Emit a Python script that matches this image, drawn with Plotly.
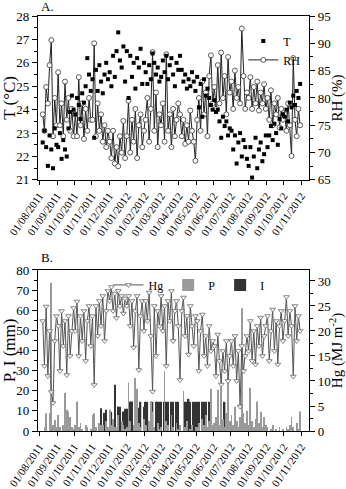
import pandas as pd
import plotly.graph_objects as go

# ---------------- data (3-day sampling) ----------------
dates = pd.date_range("2011-08-07", periods=151, freq="3D")

T = [22.6, 23.1, 22.4, 21.6, 22.9, 22.3, 21.5, 23.2, 22.5,
     22.4, 23.0, 21.9, 22.7, 22.3, 22.0, 23.2, 23.9, 24.6, 24.0,
     23.8, 24.5, 24.2, 23.6, 24.7, 24.3, 25.0, 26.2, 25.5, 24.8,
     25.3, 22.8, 25.7, 24.8, 25.9, 25.2, 24.7, 25.5, 26.0, 25.3,
     25.6, 25.0, 26.3, 25.4, 26.5, 27.3, 26.1, 25.8, 26.7, 25.2,
     26.5, 24.5, 26.3, 25.4, 26.0, 24.9, 26.2, 25.8, 26.6, 25.1, 26.0,
     25.6, 25.1, 25.9, 25.3, 26.4, 26.0, 25.5, 25.8, 25.2,
     25.4, 26.1, 25.6, 26.3, 25.3, 25.9, 26.2, 25.5, 25.0, 26.0, 25.7,
     26.3, 25.7, 25.2, 25.5, 24.9, 25.3, 25.0, 25.6, 25.2, 24.8,
     25.4, 24.1, 25.1, 23.7, 25.3, 24.6, 24.9, 24.5, 24.2, 24.0,
     24.4, 23.9, 24.0, 23.5, 22.8, 23.7, 23.3, 23.5, 22.9, 23.2,
     23.1, 22.3, 22.9, 21.7, 22.6, 23.0, 22.0, 22.7, 22.4, 21.9,
     21.6, 22.4, 21.1, 22.0, 22.8, 21.5, 22.3, 22.6, 21.8, 22.1, 22.9,
     22.4, 22.9, 23.3, 22.7, 23.4, 23.0, 22.5, 23.6, 23.2, 23.8,
     23.7, 24.0, 23.5, 24.3, 24.1, 24.6, 24.2, 24.8, 24.5, 25.1]

RH = [77, 74, 82, 79, 86, 90.6, 73, 80, 75,
      84.7, 75, 79, 73, 83, 76, 80, 74, 78, 73,
      77, 73, 83.8, 75, 79, 72.5, 78, 74, 80, 76,
      76, 90, 73, 79, 74, 77, 72, 75, 71, 74,
      72, 69, 74, 68, 71, 67.5, 73, 70, 75.8, 69,
      73, 79.5, 70, 76, 72, 78, 69, 75, 77, 71, 74,
      76, 80, 72, 78, 88.4, 74, 81, 71, 77,
      75, 79, 72, 88, 74, 77, 71, 78, 73, 76, 79,
      77, 73, 76, 71.6, 75, 72, 77.7, 74, 72, 68.5,
      76, 80, 74, 83, 77, 81, 73, 84, 87.8, 79,
      82, 78, 86, 79, 88.3, 80, 84, 77, 87.5, 81,
      83, 78, 85, 80, 82, 79, 92.7, 84, 78, 81,
      80, 83.8, 78, 82, 79, 83, 77.7, 81, 79, 82.5, 78,
      80, 76, 81.4, 75, 79, 77, 80, 74.6, 78, 76,
      77, 74, 79, 75, 69.4, 87.3, 76, 73, 78, 75]

Hg = [22, 13, 24.9, 11, 20, 7.8, 5.6, 18, 23,
      21, 12, 24, 17, 22, 11.2, 23, 15, 20, 24.6,
      20, 25.9, 15, 23, 18, 24, 14, 22, 25, 17,
      23, 9.2, 25, 19, 26, 21, 27, 18, 24, 28,
      26, 28.8, 24, 27.5, 22.6, 28, 25, 27, 23.5, 26.5,
      25, 27, 21, 26, 16.7, 24, 27, 12.2, 23, 26, 20,
      26, 22, 27.7, 19, 7.9, 25, 15, 24, 21,
      27, 20, 25, 13, 26, 22, 28, 18, 24, 26, 21,
      10.2, 24, 26.7, 19, 23, 15.3, 25, 21, 17, 23,
      22, 12, 20, 23.3, 15, 19, 13, 21, 16, 18,
      17, 11, 19.3, 14, 9.3, 16, 12, 18, 10, 15,
      18, 13, 19, 10, 16, 4.9, 17, 12, 15, 19,
      16, 22, 14, 20, 13.3, 21, 17, 22.7, 15, 19, 21,
      23, 14, 20, 24.3, 16, 22, 13.3, 21, 24, 18,
      22, 26.8, 19, 24, 21, 10.9, 25, 18, 23, 20]

P = [0, 2, 8.8, 0, 9, 73.6, 3, 5.5, 2,
     8, 2, 0, 3, 19, 10.5, 9.7, 7, 2, 1,
     3, 14.7, 2, 4, 1, 0, 3, 2, 0, 1,
     8, 8.8, 2, 0, 4, 3, 3, 0, 5, 2,
     10.5, 3, 6, 2, 2, 8, 0, 5, 3, 1,
     2, 24, 5, 0, 3, 26.3, 21, 4, 2, 0, 6,
     3, 0, 5, 14.7, 9.7, 2, 0, 4, 1,
     2, 0, 29.7, 5, 3, 0, 8, 2, 0, 4, 1,
     3, 0, 20, 2, 5, 0, 1, 3, 0, 2,
     2, 4, 0, 6, 3, 8, 2, 5, 21, 3,
     4, 7, 20.5, 3, 22, 6, 2, 9, 26.5, 5,
     8, 3, 12, 5, 2, 7, 61, 9, 4, 10,
     3, 21.5, 5, 2, 6, 14.6, 4, 9.6, 2, 7, 3,
     2, 0, 1, 3, 0, 1, 0, 2, 0, 1,
     0, 2, 1, 3, 7, 2, 0, 4, 1, 9.7]

I = [0, 0, 0, 0, 0, 0, 0, 0, 0,
     0, 0, 0, 0, 0, 0, 0, 0, 0, 0,
     0, 0, 0, 0, 0, 0, 0, 0, 0, 0,
     0, 0, 0, 0, 0, 11.3, 0, 9, 10.5, 0,
     0, 9.5, 0, 23, 0, 12.2, 12, 0, 9.7, 11,
     11, 0, 14.7, 14.7, 0, 12, 0, 11.5, 14.5, 0, 12,
     14.5, 14.5, 0, 14.5, 14.5, 0, 14.5, 14.5, 14.5,
     14.5, 0, 14.5, 14.5, 14.5, 0, 14.5, 14.5, 0, 14.5, 14.5,
     0, 0, 0, 14.5, 14.5, 16, 14.5, 0, 14.5, 14.5,
     14.5, 14.5, 0, 14.5, 14.5, 14.5, 0, 14.5, 0, 0,
     0, 0, 12, 0, 0, 0, 14.5, 0, 0, 0,
     0, 0, 0, 0, 0, 0, 0, 0, 0, 0,
     0, 0, 0, 0, 0, 0, 0, 0, 0, 0, 0,
     0, 0, 0, 0, 0, 0, 0, 0, 0, 0,
     0, 0, 0, 0, 0, 0, 0, 0, 0, 0]

# ---------------- figure ----------------
FONT = "Liberation Serif"
DAY = 86400000
X_RANGE = ["2011-07-29 18:00", "2012-11-14 12:00"]

fig = go.Figure()

# Panel A
fig.add_trace(go.Scatter(
    x=dates, y=RH, xaxis="x", yaxis="y", mode="lines+markers", name="RH",
    legend="legend", legendrank=2,
    line=dict(color="#222222", width=1),
    marker=dict(symbol="circle", size=5, color="white",
                line=dict(color="#333333", width=0.8))))
fig.add_trace(go.Scatter(
    x=dates, y=T, xaxis="x", yaxis="y2", mode="markers", name="T",
    legend="legend", legendrank=1,
    marker=dict(symbol="square", size=4, color="black")))

# Panel B
fig.add_trace(go.Bar(
    x=dates, y=I, xaxis="x2", yaxis="y3", name="I", legend="legend2",
    legendrank=3, width=2.6 * DAY,
    marker=dict(color="#333333", line=dict(width=0))))
fig.add_trace(go.Bar(
    x=dates, y=P, xaxis="x2", yaxis="y3", name="P", legend="legend2",
    legendrank=2, width=1.4 * DAY,
    marker=dict(color="#9a9a9a", line=dict(width=0))))
fig.add_trace(go.Scatter(
    x=dates, y=Hg, xaxis="x2", yaxis="y4", mode="lines+markers", name="Hg",
    legend="legend2", legendrank=1,
    line=dict(color="#555555", width=1),
    marker=dict(symbol="triangle-down", size=5, color="white",
                line=dict(color="#666666", width=0.8))))

tickfont = dict(family=FONT, size=13, color="black")
xcommon = dict(type="date", range=X_RANGE, tick0="2011-08-01", dtick="M1",
               tickformat="%d/%m/%Y", tickangle=-55, ticks="outside",
               ticklen=4, tickcolor="black", showline=True, linecolor="black",
               linewidth=1.2, mirror=True, showgrid=False, zeroline=False,
               tickfont=dict(family=FONT, size=11, color="black"),
               automargin=False)
ycommon = dict(ticks="outside", ticklen=5, tickcolor="black", showline=True,
               linecolor="black", linewidth=1.2, showgrid=False,
               zeroline=False, tickfont=tickfont, automargin=False)

fig.update_layout(
    width=346, height=489,
    margin=dict(l=38, r=37, t=16, b=58),
    paper_bgcolor="white", plot_bgcolor="white",
    font=dict(family=FONT, color="black"),
    barmode="overlay",
    xaxis=dict(domain=[0, 1], anchor="y", **xcommon),
    xaxis2=dict(domain=[0, 1], anchor="y3", **xcommon),
    yaxis=dict(domain=[0.605, 1], anchor="x", side="right", range=[65, 95],
               dtick=5, minor=dict(ticks="outside", dtick=2.5, ticklen=3,
                                   tickcolor="black"),
               title=dict(text="RH (%)", font=dict(family=FONT, size=15),
                          standoff=2),
               mirror=False, **ycommon),
    yaxis2=dict(overlaying="y", anchor="x", side="left", range=[21, 28],
                dtick=1, minor=dict(ticks="outside", dtick=0.5, ticklen=3,
                                    tickcolor="black"),
                title=dict(text="T (°C)", font=dict(family=FONT, size=17),
                           standoff=2),
                **ycommon),
    yaxis3=dict(domain=[0, 0.388], anchor="x2", side="left", range=[0, 80],
                dtick=10, minor=dict(ticks="outside", dtick=5, ticklen=3,
                                     tickcolor="black"),
                title=dict(text="P, I (mm)", font=dict(family=FONT, size=17),
                           standoff=2),
                **ycommon),
    yaxis4=dict(overlaying="y3", anchor="x2", side="right", range=[0, 32.2],
                dtick=5, minor=dict(ticks="outside", dtick=2.5, ticklen=3,
                                    tickcolor="black"),
                title=dict(text="Hg (MJ m<sup>-2</sup>)",
                           font=dict(family=FONT, size=15), standoff=2),
                **ycommon),
    legend=dict(x=0.99, xanchor="right", y=0.975, yanchor="top",
                bgcolor="rgba(0,0,0,0)", font=dict(family=FONT, size=12),
                itemwidth=30, tracegroupgap=0),
    legend2=dict(orientation="h", x=0.26, xanchor="left", y=0.387,
                 yanchor="top", bgcolor="rgba(0,0,0,0)",
                 font=dict(family=FONT, size=12), itemwidth=30),
    annotations=[
        dict(text="A.", xref="paper", yref="paper", x=0.005, y=1.022,
             xanchor="left", yanchor="middle", showarrow=False,
             font=dict(family=FONT, size=13)),
        dict(text="B.", xref="paper", yref="paper", x=0.005, y=0.418,
             xanchor="left", yanchor="middle", showarrow=False,
             font=dict(family=FONT, size=13)),
    ],
)

fig.write_html("out.html")
